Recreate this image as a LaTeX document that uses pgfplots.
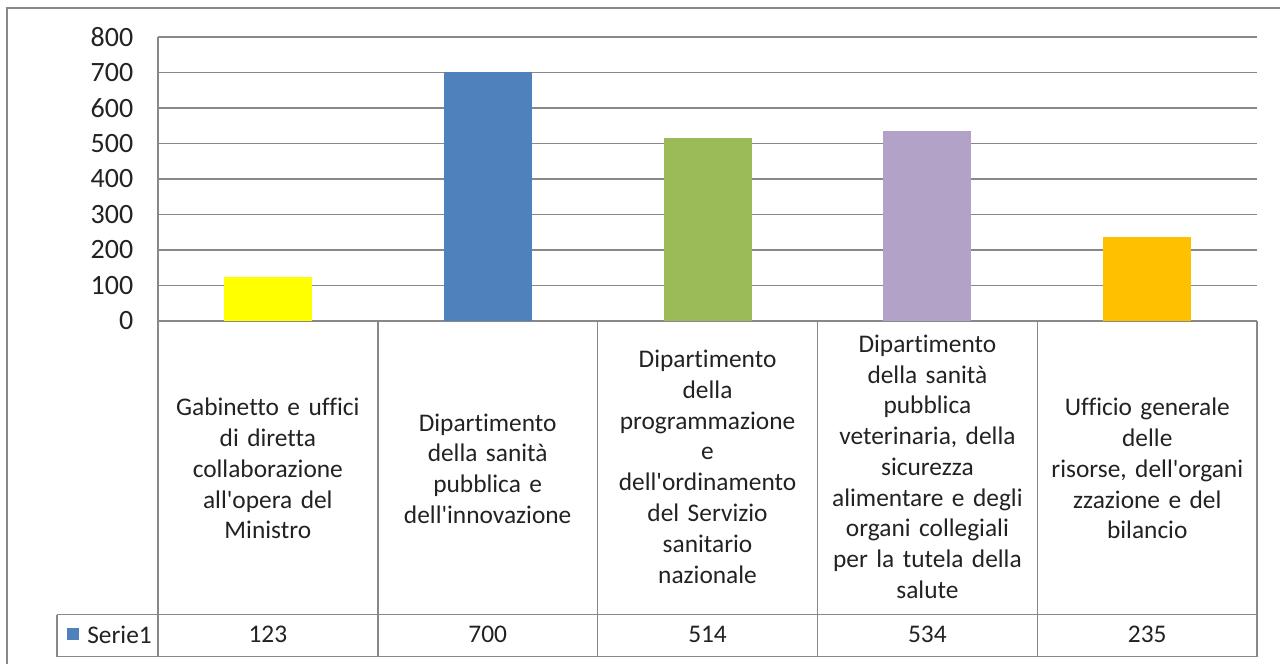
\documentclass[border=0pt]{standalone}
\usepackage{pgfplots}
\pgfplotsset{compat=1.18}
\usepackage{fontspec}
\setmainfont{Carlito}[Ligatures={NoCommon}]
\definecolor{gridc}{HTML}{888888}
\definecolor{txt}{HTML}{222222}
\definecolor{cyel}{HTML}{FFFF00}
\definecolor{cblu}{HTML}{4F81BD}
\definecolor{cgrn}{HTML}{9BBB59}
\definecolor{cpur}{HTML}{B3A2C7}
\definecolor{corg}{HTML}{FFC000}
\newcommand{\cellfont}{\fontsize{12.7}{15.4}\selectfont}
\newcommand{\ap}{\textquotesingle}

\begin{document}
\begin{tikzpicture}
\path (-79pt,-171.5pt) rectangle (561.5pt,160.5pt);
\draw[gridc, line width=0.8pt] (-75.5pt,-171.5pt) -- (-75.5pt,156.5pt) -- (561.5pt,156.5pt);

\begin{axis}[at={(0,0)}, anchor=south west,
  width=550pt, height=142pt, scale only axis,
  xmin=-0.5, xmax=4.5, ymin=0, ymax=800,
  ytick={0,100,...,800}, xtick=\empty,
  ymajorgrids, grid style={gridc, line width=0.75pt},
  axis line style={draw=none}, major tick length=0pt,
  yticklabel style={font=\fontsize{14}{16}\selectfont, text=txt, xshift=-8.8pt,
    /pgf/number format/assume math mode=true},
  ybar, bar width=44pt, bar shift=0pt, clip=false]
\addplot[fill=cyel, draw=none] coordinates {(0,123)};
\addplot[fill=cblu, draw=none] coordinates {(1,700)};
\addplot[fill=cgrn, draw=none] coordinates {(2,514)};
\addplot[fill=cpur, draw=none] coordinates {(3,534)};
\addplot[fill=corg, draw=none] coordinates {(4,235)};
\foreach \i/\v in {0/123,1/700,2/514,3/534,4/235}{
  \edef\tmp{\noexpand\node[font=\noexpand\cellfont, text=txt] at (axis cs:\i,-884) {\v};}\tmp
}
\end{axis}

% data table grid
\begin{scope}[gridc, line width=0.75pt]
\draw (0,142pt) -- (0,-168pt);
\foreach \x in {110,220,330,440,550}{\draw (\x pt,0) -- (\x pt,-168pt);}
\draw (-50.5pt,-147pt) -- (550pt,-147pt);
\draw (-50.5pt,-168pt) -- (550pt,-168pt);
\draw (-50.5pt,-147pt) -- (-50.5pt,-168pt);
\end{scope}
\fill[cblu] (-45.5pt,-153.5pt) rectangle (-39.5pt,-159.5pt);
\node[font=\cellfont, text=txt, anchor=west, inner sep=0pt] at (-35.5pt,-157pt) {Serie1};

\begin{scope}[every node/.style={font=\cellfont, text=txt, align=center, text width=108pt}]
\node at (55pt,-74pt) {Gabinetto e uffici\\di diretta\\collaborazione\\all\ap opera del\\Ministro};
\node at (165pt,-74pt) {Dipartimento\\della sanità\\pubblica e\\dell\ap innovazione};
\node at (275pt,-73pt) {Dipartimento\\della\\programmazione\\e\\dell\ap ordinamento\\del Servizio\\sanitario\\nazionale};
\node at (385pt,-73pt) {Dipartimento\\della sanità\\pubblica\\veterinaria, della\\sicurezza\\alimentare e degli\\organi collegiali\\per la tutela della\\salute};
\node at (495pt,-74pt) {Ufficio generale\\delle\\risorse, dell\ap organi\\zzazione e del\\bilancio};
\end{scope}
\end{tikzpicture}
\end{document}
